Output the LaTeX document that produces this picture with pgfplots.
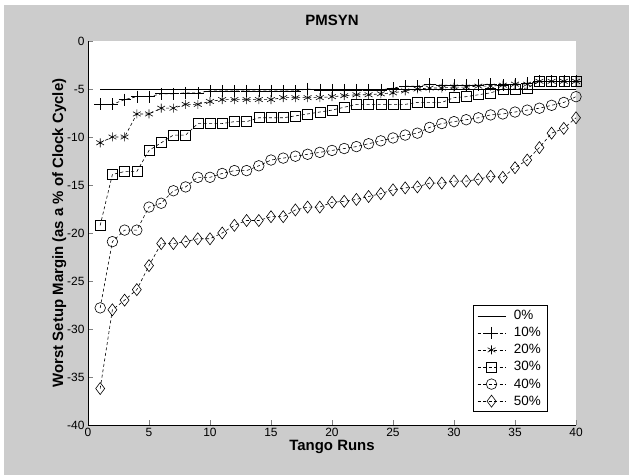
\documentclass[border=0pt]{standalone}
\usepackage{pgfplots}
\pgfplotsset{compat=1.18}
\usepackage{fontspec}
\setmainfont{Liberation Sans}
\usetikzlibrary{backgrounds,calc}
\definecolor{figgray}{RGB}{204,204,204}

\begin{document}
\begin{tikzpicture}
\begin{axis}[
    scale only axis,
    width=488bp, height=384bp,
    xmin=0, xmax=40, ymin=-40, ymax=0,
    axis x line*=bottom, axis y line*=left,
    axis background/.style={fill=white},
    tick align=inside,
    major tick length=5bp,
    xtick={0,5,...,40}, xticklabels={0,5,10,15,20,25,30,35,40},
    ytick={-40,-35,...,0}, yticklabels={-40,-35,-30,-25,-20,-15,-10,-5,0},
    ticklabel style={font=\fontsize{12}{13}\selectfont},
    title={\bfseries PMSYN},
    title style={font=\fontsize{15}{17}\selectfont, yshift=6bp},
    xlabel={\bfseries Tango Runs},
    ylabel={\bfseries Worst Setup Margin (as a \% of Clock Cycle)},
    label style={font=\fontsize{15}{17}\selectfont},
    xlabel style={yshift=3.5bp},
    ylabel style={yshift=-6bp},
    every axis plot/.append style={black, line width=0.6bp},
    legend cell align=left,
    legend style={at={(0.789,0.312)}, anchor=north west, draw=black,
      font=\fontsize{13.5}{15}\selectfont, row sep=2.2bp,
      inner xsep=4bp, inner ysep=3bp,
      /tikz/every odd column/.append style={column sep=6bp}},
    legend image code/.code={\draw[mark repeat=2,mark phase=2,#1]
      plot coordinates {(0bp,0bp)(14bp,0bp)(28bp,0bp)};},
]
\addplot[solid] coordinates {(1,-5) (40,-5)};
\addlegendentry{0\%}

\addplot[dash pattern=on 3bp off 2.5bp, mark=+, mark size=6bp, mark options={solid}] coordinates {
(1,-6.6) (2,-6.6) (3,-6.1) (4,-5.8) (5,-5.8) (6,-5.5) (7,-5.5) (8,-5.4) (9,-5.4) (10,-5.2)
(11,-5.2) (12,-5.2) (13,-5.2) (14,-5.2) (15,-5.2) (16,-5.2) (17,-5.2) (18,-5.0) (19,-5.1) (20,-5.1)
(21,-5.1) (22,-5.1) (23,-5.1) (24,-5.1) (25,-4.9) (26,-4.7) (27,-4.7) (28,-4.5) (29,-4.6) (30,-4.6)
(31,-4.6) (32,-4.6) (33,-4.5) (34,-4.6) (35,-4.5) (36,-4.4) (37,-4.2) (38,-4.2) (39,-4.2) (40,-4.2)};
\addlegendentry{10\%}

\addplot[dash pattern=on 3bp off 2.5bp, mark=asterisk, mark size=4.5bp, mark options={solid}] coordinates {
(1,-10.6) (2,-10.0) (3,-10.0) (4,-7.6) (5,-7.6) (6,-7.0) (7,-7.0) (8,-6.6) (9,-6.6) (10,-6.3)
(11,-6.1) (12,-6.1) (13,-6.1) (14,-6.1) (15,-6.1) (16,-5.9) (17,-5.9) (18,-5.9) (19,-5.9) (20,-5.8)
(21,-5.7) (22,-5.6) (23,-5.6) (24,-5.5) (25,-5.4) (26,-5.2) (27,-5.0) (28,-4.9) (29,-4.9) (30,-4.8)
(31,-4.8) (32,-4.7) (33,-4.7) (34,-4.6) (35,-4.5) (36,-4.5) (37,-4.2) (38,-4.2) (39,-4.2) (40,-4.2)};
\addlegendentry{20\%}

\addplot[dash pattern=on 3bp off 2.5bp, mark=square, mark size=5bp, mark options={solid}] coordinates {
(1,-19.2) (2,-13.9) (3,-13.6) (4,-13.6) (5,-11.4) (6,-10.6) (7,-9.8) (8,-9.8) (9,-8.6) (10,-8.6)
(11,-8.6) (12,-8.4) (13,-8.4) (14,-8.0) (15,-8.0) (16,-8.0) (17,-7.8) (18,-7.6) (19,-7.4) (20,-7.2)
(21,-6.9) (22,-6.6) (23,-6.6) (24,-6.6) (25,-6.6) (26,-6.6) (27,-6.4) (28,-6.4) (29,-6.4) (30,-5.9)
(31,-5.8) (32,-5.6) (33,-5.4) (34,-5.0) (35,-5.0) (36,-4.9) (37,-4.2) (38,-4.2) (39,-4.2) (40,-4.2)};
\addlegendentry{30\%}

\addplot[dash pattern=on 3bp off 2.5bp, mark=o, mark size=5.3bp, mark options={solid}] coordinates {
(1,-27.8) (2,-20.9) (3,-19.7) (4,-19.7) (5,-17.3) (6,-16.9) (7,-15.6) (8,-15.2) (9,-14.2) (10,-14.2)
(11,-13.8) (12,-13.5) (13,-13.5) (14,-13.0) (15,-12.4) (16,-12.2) (17,-12.0) (18,-11.8) (19,-11.6) (20,-11.4)
(21,-11.2) (22,-11.0) (23,-10.7) (24,-10.4) (25,-10.1) (26,-9.8) (27,-9.6) (28,-9.0) (29,-8.6) (30,-8.4)
(31,-8.2) (32,-8.0) (33,-7.7) (34,-7.6) (35,-7.4) (36,-7.2) (37,-7.0) (38,-6.7) (39,-6.4) (40,-5.8)};
\addlegendentry{40\%}

\addplot[dash pattern=on 3bp off 2.5bp, mark=diamond, mark size=6bp, mark options={solid}] coordinates {
(1,-36.2) (2,-28.0) (3,-27.0) (4,-25.9) (5,-23.4) (6,-21.1) (7,-21.1) (8,-20.9) (9,-20.6) (10,-20.6)
(11,-20.0) (12,-19.2) (13,-18.7) (14,-18.7) (15,-18.3) (16,-18.3) (17,-17.6) (18,-17.3) (19,-17.3) (20,-16.8)
(21,-16.7) (22,-16.5) (23,-16.2) (24,-15.9) (25,-15.5) (26,-15.3) (27,-15.2) (28,-14.8) (29,-14.8) (30,-14.6)
(31,-14.6) (32,-14.4) (33,-14.1) (34,-14.2) (35,-13.2) (36,-12.4) (37,-11.1) (38,-9.6) (39,-9.1) (40,-8.0)};
\addlegendentry{50\%}
\end{axis}
\begin{scope}[on background layer]
  \fill[white] ($(current axis.south west)+(-88bp,-50bp)$) rectangle ($(current axis.south west)+(541bp,425bp)$);
  \fill[figgray] ($(current axis.south west)+(-84bp,-50bp)$) rectangle ($(current axis.south west)+(541bp,420bp)$);
\end{scope}
\path[use as bounding box] ($(current axis.south west)+(-88bp,-50bp)$) rectangle ($(current axis.south west)+(541bp,425bp)$);
\end{tikzpicture}
\end{document}
